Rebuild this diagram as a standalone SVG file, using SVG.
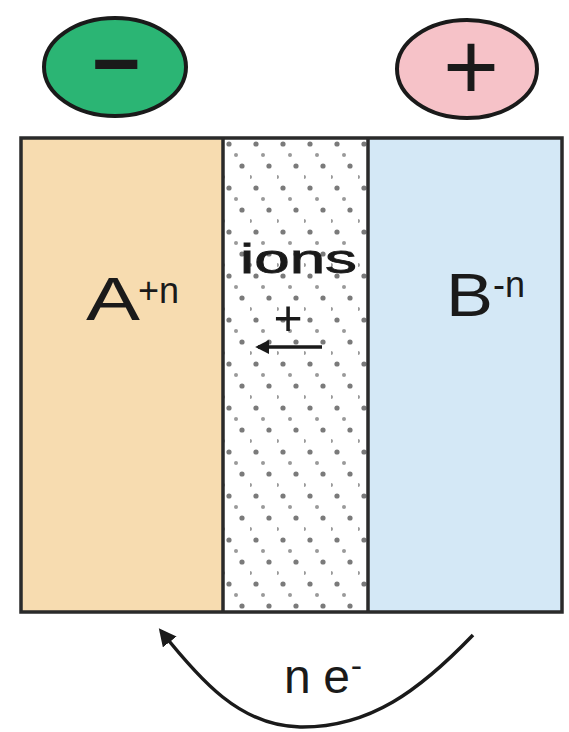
<svg xmlns="http://www.w3.org/2000/svg" width="569" height="732" viewBox="0 0 569 732">
<style>
.lbl{font-family:"Liberation Sans",Arial,sans-serif;fill:#1a1a1a}
.edge{fill:none;stroke:#1a1a1a;stroke-width:3.5}
</style>
<defs>
<pattern id="dots" x="223" y="140" width="27" height="44" patternUnits="userSpaceOnUse">
<circle cx="6" cy="4" r="2.6" fill="#7a7a7a"/>
<circle cx="19" cy="26" r="2.6" fill="#7a7a7a"/>
<circle cx="13" cy="15" r="2" fill="#9a9a9a"/>
<circle cx="0" cy="37" r="2" fill="#9a9a9a"/>
</pattern>
<marker id="ah" viewBox="0 0 10 10" refX="8" refY="5" markerWidth="5" markerHeight="5" orient="auto" markerUnits="strokeWidth">
<path d="M0,0 L10,5 L0,10 z" fill="#1a1a1a"/>
</marker>
<marker id="ah2" viewBox="0 0 10 10" refX="8" refY="5" markerWidth="4" markerHeight="4" orient="auto" markerUnits="strokeWidth">
<path d="M0,0 L10,5 L0,10 z" fill="#1a1a1a"/>
</marker>
</defs>
<rect width="569" height="732" fill="#ffffff"/>
<g id="anode-terminal">
<ellipse cx="115" cy="67" rx="71" ry="49" fill="#2bb574" stroke="#1a1a1a" stroke-width="4"/>
<text class="lbl" x="116" y="92" font-size="84" font-weight="bold" text-anchor="middle">−</text>
</g>
<g id="cathode-terminal">
<ellipse cx="467" cy="69" rx="70" ry="49" fill="#f6c2c8" stroke="#1a1a1a" stroke-width="4"/>
<text class="lbl" x="471" y="100" font-size="96" text-anchor="middle">+</text>
</g>
<g id="anode">
<rect x="21" y="138" width="202" height="474" fill="#f7dcb0"/>
<text class="lbl" x="86" y="320" font-size="62" textLength="54" lengthAdjust="spacingAndGlyphs">A</text>
<text class="lbl" x="138" y="303" font-size="36">+n</text>
</g>
<g id="electrolyte">
<rect x="223" y="138" width="145" height="474" fill="#ffffff"/>
<rect x="223" y="138" width="145" height="474" fill="url(#dots)"/>
<text class="lbl" x="240" y="273" font-size="40" stroke="#1a1a1a" stroke-width="0.8" textLength="117" lengthAdjust="spacingAndGlyphs">ions</text>
<text class="lbl" x="288" y="335" font-size="50" text-anchor="middle">+</text>
</g>
<g id="cathode">
<rect x="368" y="138" width="194" height="474" fill="#d4e8f6"/>
<text class="lbl" x="446" y="316" font-size="62" textLength="47" lengthAdjust="spacingAndGlyphs">B</text>
<text class="lbl" x="493" y="297" font-size="36">-n</text>
</g>
<g id="frame" fill="none" stroke="#2a2a2a" stroke-width="3.5">
<rect x="21" y="138" width="541" height="474"/>
<line x1="223" y1="138" x2="223" y2="612"/>
<line x1="368" y1="138" x2="368" y2="612"/>
</g>
<g id="connectors">
<line class="edge" x1="322" y1="347" x2="258" y2="347" stroke-width="3" marker-end="url(#ah2)"/>
<path class="edge" d="M473,635 C420,690 370,728 300,727 C240,726 200,680 161,631" marker-end="url(#ah)"/>
</g>
<g id="electron-label">
<text class="lbl" x="284" y="693" font-size="48" textLength="78">n e<tspan dx="1" dy="-16" font-size="34">-</tspan></text>
</g>
</svg>
